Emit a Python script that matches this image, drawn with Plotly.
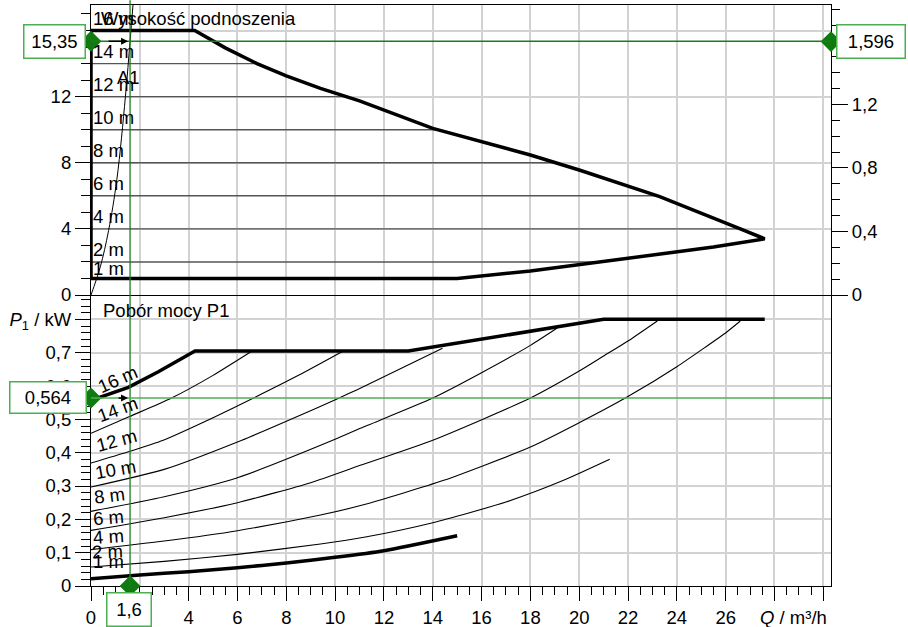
import plotly.graph_objects as go

# ------------------------------------------------------------------ data
q_ticks = list(range(0, 31, 2))
q_tick_labels = [str(v) for v in range(0, 27, 2)] + ["", ""]

h_ticks = [0, 4, 8, 12, 16]
h_tick_labels = ["0", "4", "8", "12", "<i>H</i> / m"]

bar_ticks = [0, 0.4, 0.8, 1.2, 1.6]
bar_tick_labels = ["0", "0,4", "0,8", "1,2", "1,6"]

p_ticks = [0, 0.1, 0.2, 0.3, 0.4, 0.5, 0.6, 0.7, 0.8]
p_tick_labels = ["0", "0,1", "0,2", "0,3", "0,4", "0,5", "0,6", "0,7",
                 "<i>P</i><sub>1</sub> / kW"]

# operating field boundary (H-Q), closed loop
field_q = [0, 0, 4.25, 5.5, 6.8, 8.0, 9.4, 11.0, 14.0, 18.0, 20.0, 23.3, 26.6, 27.6,
           25.5, 23.3, 20.0, 18.0, 15.0, 0]
field_h = [1, 16, 16, 14.95, 14.0, 13.25, 12.5, 11.74, 10.08, 8.47, 7.56, 5.95, 4.0, 3.4,
           2.9, 2.46, 1.82, 1.45, 1.0, 1.0]

# constant-head lines inside the field
iso_heads = [2, 4, 6, 8, 10, 12, 14]
iso_end_q = [21.1, 26.6, 23.2, 19.05, 14.2, 10.4, 6.8]
head_label_values = [16, 14, 12, 10, 8, 6, 4, 2, 1]

# system curve A1
a1_q = [0, 0.38, 0.72, 1.06, 1.41, 1.6, 1.72]
a1_h = [0, 1.7, 3.9, 7.0, 12.0, 15.35, 17.54]

# power curves P1 (kW) for constant heads
p16_q = [0, 1.53, 2.76, 4.26, 13.0, 21.0, 27.6]
p16 = [0.557, 0.596, 0.643, 0.705, 0.705, 0.800, 0.800]
p1_q = [0, 2, 4, 6, 8, 10, 12, 15]
p1 = [0.022, 0.033, 0.043, 0.055, 0.069, 0.086, 0.106, 0.151]
p14_q = [0, 1.6, 3.3, 5.0, 6.6]
p14 = [0.458, 0.509, 0.564, 0.632, 0.705]
p12_q = [0, 1.5, 2.96, 5.0, 6.66, 8.5, 10.34]
p12 = [0.369, 0.402, 0.4375, 0.505, 0.564, 0.632, 0.705]
p10_q = [0, 3, 6.18, 8.5, 10.1, 11.03, 14.4]
p10 = [0.297, 0.35, 0.4375, 0.51, 0.562, 0.593, 0.713]
p8_q = [0, 3, 6, 10, 11.03, 14, 16, 18, 19.1]
p8 = [0.224, 0.268, 0.325, 0.44, 0.473, 0.564, 0.64, 0.722, 0.774]
p6_q = [0, 3, 6, 9, 11.03, 14, 18, 20, 21, 22, 23.2]
p6 = [0.167, 0.205, 0.25, 0.31, 0.362, 0.4375, 0.564, 0.645, 0.69, 0.735, 0.795]
p4_q = [0, 3, 6, 9.4, 11.24, 14.45, 18, 20, 21.96, 24, 26.06, 26.6]
p4 = [0.109, 0.135, 0.166, 0.213, 0.245, 0.317, 0.417, 0.49, 0.567, 0.658, 0.763, 0.795]
p2_q = [0, 3, 6, 9.4, 11.24, 14, 17, 19.36, 21.25]
p2 = [0.057, 0.074, 0.095, 0.126, 0.147, 0.19, 0.252, 0.317, 0.38]

# operating point
op_q = 1.6
op_h = 15.35
op_bar = 1.596
op_p = 0.564

# ------------------------------------------------------------------ style
FONT = "Liberation Sans, Arial, sans-serif"
FS = 18.5
GRID = "#d2d2d2"
ISO = "#555555"
GREEN_D = "#1d7d1d"
GREEN_L = "#4fae4f"
BOX = "#4caf50"

Q_MAX = 30.315
H_MAX = 17.544
BAR_MAX = 1.826
P_MAX = 0.8731
SPLIT = 0.50086

L, R, T, B = 91, 77, 5, 41
PW, PH = 908 - L - R, 627 - T - B


def pxx(x):
    return (x - L) / PW


def pyy(y):
    return (627 - B - y) / PH


def fmt(v, nd):
    return f"{v:.{nd}f}".replace(".", ",")


fig = go.Figure()

# ---- top panel (H-Q) ----
for h, qe in zip(iso_heads, iso_end_q):
    fig.add_trace(go.Scatter(x=[0, qe], y=[h, h], mode="lines",
                             line=dict(color=ISO, width=1.4),
                             xaxis="x2", yaxis="y", hoverinfo="skip"))
fig.add_trace(go.Scatter(x=a1_q, y=a1_h, mode="lines",
                         line=dict(color="black", width=1, shape="spline"),
                         xaxis="x2", yaxis="y", hoverinfo="skip"))
fig.add_trace(go.Scatter(x=field_q, y=field_h, mode="lines",
                         line=dict(color="black", width=3.5),
                         xaxis="x2", yaxis="y", hoverinfo="skip"))

# ---- bottom panel (P1-Q) ----
thin_curves = [(p14_q, p14), (p12_q, p12), (p10_q, p10), (p8_q, p8),
               (p6_q, p6), (p4_q, p4), (p2_q, p2)]
for cq, cp in thin_curves:
    fig.add_trace(go.Scatter(x=cq, y=cp, mode="lines",
                             line=dict(color="black", width=1.1, shape="spline", smoothing=0.6),
                             xaxis="x", yaxis="y2", hoverinfo="skip"))
fig.add_trace(go.Scatter(x=p1_q, y=p1, mode="lines",
                         line=dict(color="black", width=3.5, shape="spline", smoothing=0.6),
                         xaxis="x", yaxis="y2", hoverinfo="skip"))
fig.add_trace(go.Scatter(x=p16_q, y=p16, mode="lines",
                         line=dict(color="black", width=3.5),
                         xaxis="x", yaxis="y2", hoverinfo="skip"))

# ---- operating point markers ----
dia = dict(symbol="diamond", size=16, color="#0f7a0f")
fig.add_trace(go.Scatter(x=[0], y=[op_h], mode="markers", marker=dia, cliponaxis=False,
                         xaxis="x2", yaxis="y", hoverinfo="skip"))
fig.add_trace(go.Scatter(x=[Q_MAX], y=[op_bar], mode="markers", marker=dia, cliponaxis=False,
                         xaxis="x2", yaxis="y3", hoverinfo="skip"))
fig.add_trace(go.Scatter(x=[0], y=[op_p], mode="markers", marker=dia, cliponaxis=False,
                         xaxis="x", yaxis="y2", hoverinfo="skip"))
fig.add_trace(go.Scatter(x=[op_q], y=[0], mode="markers", marker=dia, cliponaxis=False,
                         xaxis="x", yaxis="y2", hoverinfo="skip"))

shapes = [
    dict(type="line", xref="x", yref="paper", x0=op_q, x1=op_q, y0=0, y1=1.008,
         line=dict(color=GREEN_D, width=1.3), layer="above"),
    dict(type="line", xref="x2", yref="y", x0=0, x1=Q_MAX, y0=op_h, y1=op_h,
         line=dict(color=GREEN_D, width=1.3), layer="above"),
    dict(type="line", xref="x", yref="y2", x0=0, x1=Q_MAX, y0=op_p, y1=op_p,
         line=dict(color=GREEN_L, width=1.5), layer="above"),
]

ann = []


def box(text, cx, cy, w, h):
    ann.append(dict(text=text, xref="paper", yref="paper", x=pxx(cx), y=pyy(cy),
                    xanchor="center", yanchor="middle", showarrow=False,
                    bgcolor="white", bordercolor=BOX, borderwidth=1.5, borderpad=1,
                    width=w, height=h, font=dict(size=FS, color="black", family=FONT)))


box(fmt(op_h, 2), 54.7, 41.7, 58, 30)
box(fmt(op_bar, 3), 871, 41.7, 65, 30)
box(fmt(op_p, 3), 47.5, 397.5, 73, 28)
box(fmt(op_q, 1), 129.2, 609.5, 41, 30)

# titles
ann.append(dict(text="Wysokość podnoszenia", xref="paper", yref="paper", x=pxx(99), y=pyy(19),
                xanchor="left", yanchor="middle", showarrow=False))
ann.append(dict(text="Pobór mocy P1", xref="paper", yref="paper", x=pxx(100.5), y=pyy(310),
                xanchor="left", yanchor="middle", showarrow=False))
ann.append(dict(text="<i>Q</i> / m³/h", xref="paper", yref="paper", x=pxx(829), y=pyy(617),
                xanchor="right", yanchor="middle", showarrow=False))
ann.append(dict(text="A1", xref="paper", yref="paper", x=pxx(128), y=pyy(77.5),
                xanchor="center", yanchor="middle", showarrow=False))

# head labels in the top panel
for hv in head_label_values:
    ann.append(dict(text=f"{hv} m", xref="x2", yref="y", x=0, y=hv, xanchor="left",
                    yanchor="middle", xshift=0, yshift=10 if hv == 1 else 12.5,
                    showarrow=False))

# head labels on the power curves
bottom_label_pos = [(117, 379, -24), (117, 409, -20), (116, 440, -15), (115, 469, -10),
                    (109, 495, -7), (108, 517, -5), (108, 536, -4), (107, 551, -2),
                    (108, 561, 0)]
for hv, (cx, cy, ang) in zip(head_label_values, bottom_label_pos):
    ann.append(dict(text=f"{hv} m", xref="paper", yref="paper", x=pxx(cx), y=pyy(cy),
                    xanchor="center", yanchor="middle", textangle=ang, showarrow=False))

# small arrows pointing to the operating point
ann.append(dict(text="", xref="x2", yref="y", x=op_q, y=op_h, ax=-23, ay=0,
                showarrow=True, arrowhead=2, arrowsize=1, arrowwidth=1.4,
                arrowcolor="black", standoff=2))
ann.append(dict(text="", xref="x", yref="y2", x=op_q, y=op_p, ax=-13, ay=0,
                showarrow=True, arrowhead=2, arrowsize=1, arrowwidth=1.4,
                arrowcolor="black", standoff=2))

axis_common = dict(zeroline=False, linecolor="black", tickcolor="black", automargin=False,
                   layer="below traces", tickfont=dict(size=FS, family=FONT, color="black"))

fig.update_layout(
    template="none",
    width=908, height=627,
    margin=dict(l=L, r=R, t=T, b=B, autoexpand=False),
    plot_bgcolor="white", paper_bgcolor="white",
    showlegend=False,
    font=dict(family=FONT, size=FS, color="black"),
    xaxis=dict(domain=[0, 1], anchor="y2", range=[0, Q_MAX], tickmode="array",
               tickvals=q_ticks, ticktext=q_tick_labels, ticks="outside", ticklen=14,
               tickwidth=1,
               minor=dict(tickmode="linear", tick0=0, dtick=0.5, ticks="outside", ticklen=8,
                          tickwidth=1, tickcolor="black", showgrid=False),
               showgrid=True, gridcolor=GRID, gridwidth=1.5,
               showline=True, linewidth=1, ticklabelstandoff=1, **axis_common),
    xaxis2=dict(domain=[0, 1], anchor="y", matches="x", range=[0, Q_MAX], tickmode="array",
                tickvals=q_ticks, showticklabels=False, ticks="",
                showgrid=True, gridcolor=GRID, gridwidth=1.5,
                showline=True, mirror=True, linewidth=1.2, **axis_common),
    yaxis=dict(domain=[SPLIT, 1], anchor="x2", range=[0, H_MAX], tickmode="array",
               tickvals=h_ticks, ticktext=h_tick_labels, ticks="outside", ticklen=15,
               tickwidth=1,
               minor=dict(tickmode="linear", tick0=0, dtick=1, ticks="outside", ticklen=9,
                          tickwidth=1, tickcolor="black", showgrid=False),
               showgrid=True, gridcolor=GRID, gridwidth=1.5,
               showline=True, mirror=True, linewidth=1.2, **axis_common),
    yaxis3=dict(overlaying="y", side="right", anchor="x2", range=[0, BAR_MAX],
                tickmode="array", tickvals=bar_ticks, ticktext=bar_tick_labels,
                ticks="outside", ticklen=16, tickwidth=1,
                minor=dict(tickmode="linear", tick0=0, dtick=0.1, ticks="outside", ticklen=8,
                           tickwidth=1, tickcolor="black", showgrid=False),
                showgrid=False, showline=True, linewidth=1.2, **axis_common),
    yaxis2=dict(domain=[0, SPLIT], anchor="x", range=[0, P_MAX], tickmode="array",
                tickvals=p_ticks, ticktext=p_tick_labels, ticks="outside", ticklen=15,
                tickwidth=1,
                minor=dict(tickmode="linear", tick0=0, dtick=0.02, ticks="outside", ticklen=9,
                           tickwidth=1, tickcolor="black", showgrid=False),
                showgrid=True, gridcolor=GRID, gridwidth=1.5,
                showline=True, mirror=True, linewidth=1.2, **axis_common),
    shapes=shapes,
    annotations=ann,
)

fig.write_html(
    "out.html",
    config={"displayModeBar": False, "staticPlot": False},
    post_script="document.body.style.margin='0';document.body.style.padding='0';"
                "document.documentElement.style.overflow='hidden';",
)
